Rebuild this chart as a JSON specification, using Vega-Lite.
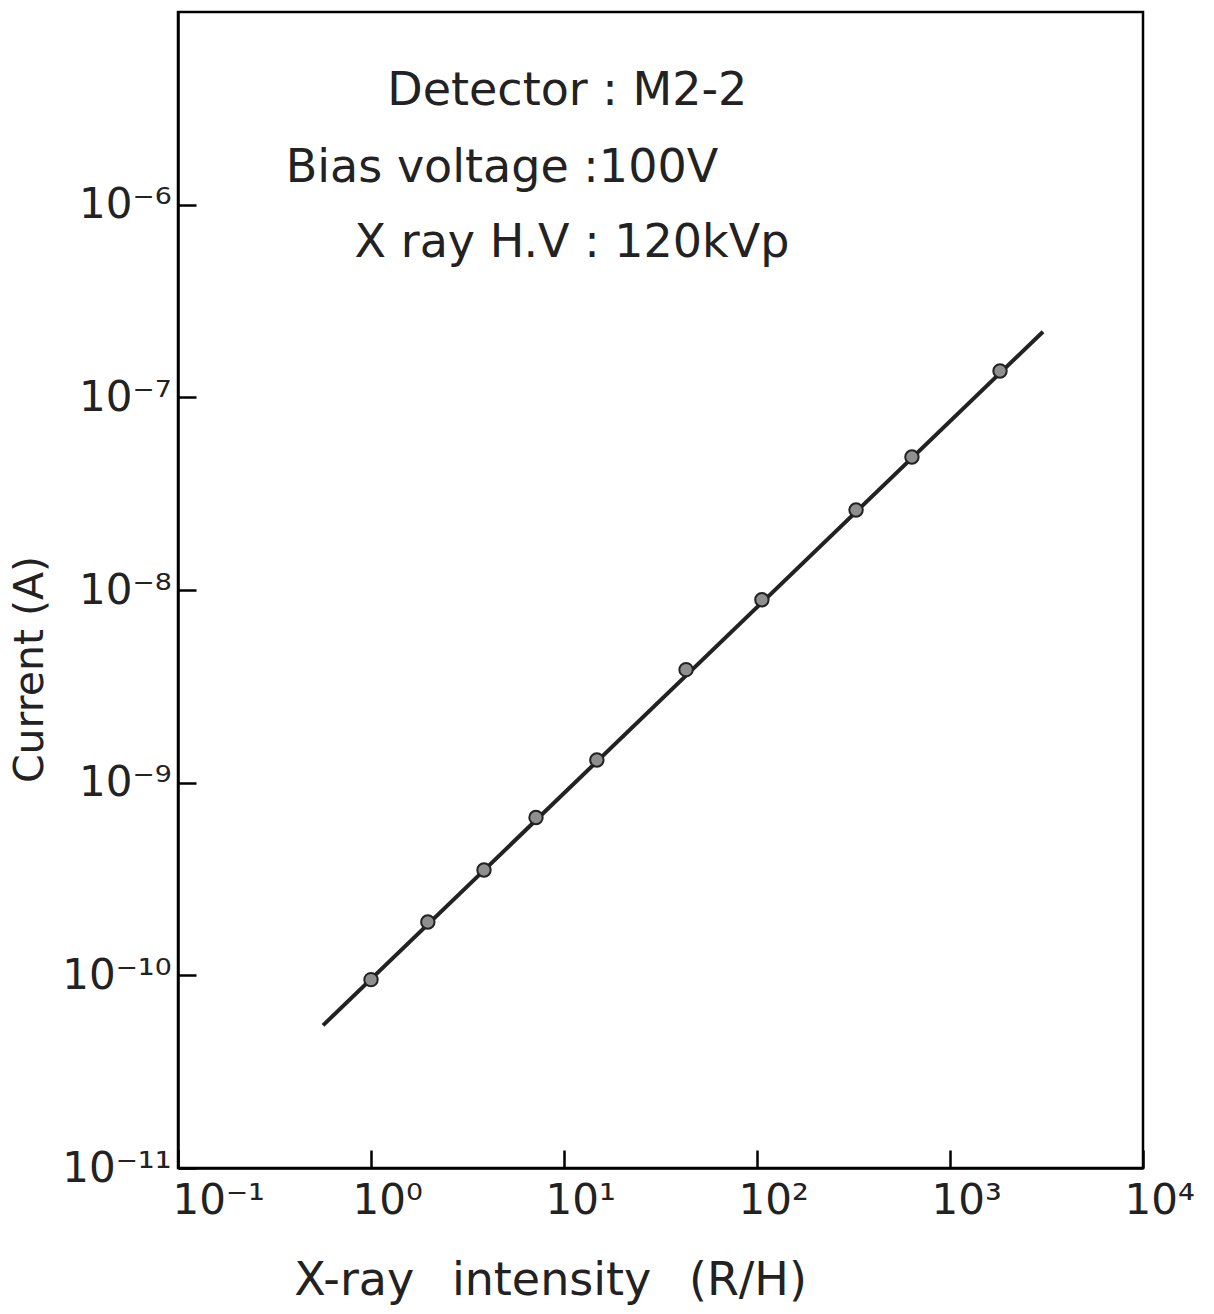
{
  "$schema": "https://vega.github.io/schema/vega-lite/v6.json",
  "autosize": "none",
  "width": 965,
  "height": 1156,
  "padding": {"left": 178, "top": 12, "right": 71, "bottom": 146},
  "background": "white",
  "config": {
    "view": {"stroke": "black", "strokeWidth": 2.5},
    "font": "DejaVu Sans",
    "axis": {"grid": false, "domainColor": "black", "domainWidth": 2.5, "tickColor": "black", "tickWidth": 2.5, "labelColor": "#222", "titleColor": "#222", "labelFont": "DejaVu Sans", "titleFont": "DejaVu Sans", "titleFontWeight": "normal", "labelFlush": false, "labelOverlap": false}
  },
  "datasets": {
    "points": [
      {"intensity": 1.0, "current": 9.5e-11},
      {"intensity": 1.97, "current": 1.89e-10},
      {"intensity": 3.85, "current": 3.52e-10},
      {"intensity": 7.16, "current": 6.6e-10},
      {"intensity": 14.8, "current": 1.31e-9},
      {"intensity": 42.9, "current": 3.86e-9},
      {"intensity": 106, "current": 8.9e-9},
      {"intensity": 326, "current": 2.6e-8},
      {"intensity": 635, "current": 4.9e-8},
      {"intensity": 1816, "current": 1.37e-7}
    ],
    "fit": [
      {"intensity": 0.564, "current": 5.5e-11},
      {"intensity": 3033, "current": 2.19e-7}
    ],
    "notes": [
      {"intensity": 10.4, "current": 3.29e-6, "label": "Detector :  M2-2"},
      {"intensity": 4.77, "current": 1.31e-6, "label": "Bias voltage :100V"},
      {"intensity": 11.0, "current": 5.35e-7, "label": "X ray H.V : 120kVp"}
    ]
  },
  "layer": [
    {
      "data": {"name": "fit"},
      "mark": {"type": "line", "color": "#222", "strokeWidth": 4},
      "encoding": {
        "x": {"field": "intensity", "type": "quantitative", "scale": {"type": "log", "domain": [0.1, 10000], "nice": false},
          "axis": {"values": [0.1, 1, 10, 100, 1000, 10000], "tickSize": -18, "labelPadding": 30, "labelFontSize": 42, "labelBaseline": "top", "labelAlign": "left",
            "labelOffset": {"condition": {"test": "datum.value < 0.5", "value": -6}, "value": -19},
            "labelExpr": "['10⁻¹','10⁰','10¹','10²','10³','10⁴'][round(log(datum.value)/LN10)+1]",
            "title": "X-ray\u2002 intensity\u2002 (R/H)", "titleFontSize": 46, "titleX": 372, "titleY": 112, "titleBaseline": "middle"}},
        "y": {"field": "current", "type": "quantitative", "scale": {"type": "log", "domain": [1e-11, 1e-5], "nice": false},
          "axis": {"values": [1e-11, 1e-10, 1e-9, 1e-8, 1e-7, 1e-6], "tickSize": -18, "labelPadding": 25, "labelFontSize": 42, "labelBaseline": "middle",
            "labelExpr": "['10⁻¹¹','10⁻¹⁰','10⁻⁹','10⁻⁸','10⁻⁷','10⁻⁶'][round(log(datum.value)/LN10)+11]",
            "title": "Current (A)", "titleFontSize": 41, "titleX": -148, "titleY": 657, "titleBaseline": "middle"}}
      }
    },
    {
      "data": {"name": "points"},
      "mark": {"type": "point", "shape": "circle", "filled": true, "fill": "#8f8f8f", "stroke": "#222", "strokeWidth": 2, "size": 180, "opacity": 1},
      "encoding": {
        "x": {"field": "intensity", "type": "quantitative"},
        "y": {"field": "current", "type": "quantitative"}
      }
    },
    {
      "data": {"name": "notes"},
      "mark": {"type": "text", "fontSize": 46, "color": "#222", "align": "center", "baseline": "alphabetic"},
      "encoding": {
        "x": {"field": "intensity", "type": "quantitative"},
        "y": {"field": "current", "type": "quantitative"},
        "text": {"field": "label"}
      }
    }
  ]
}
